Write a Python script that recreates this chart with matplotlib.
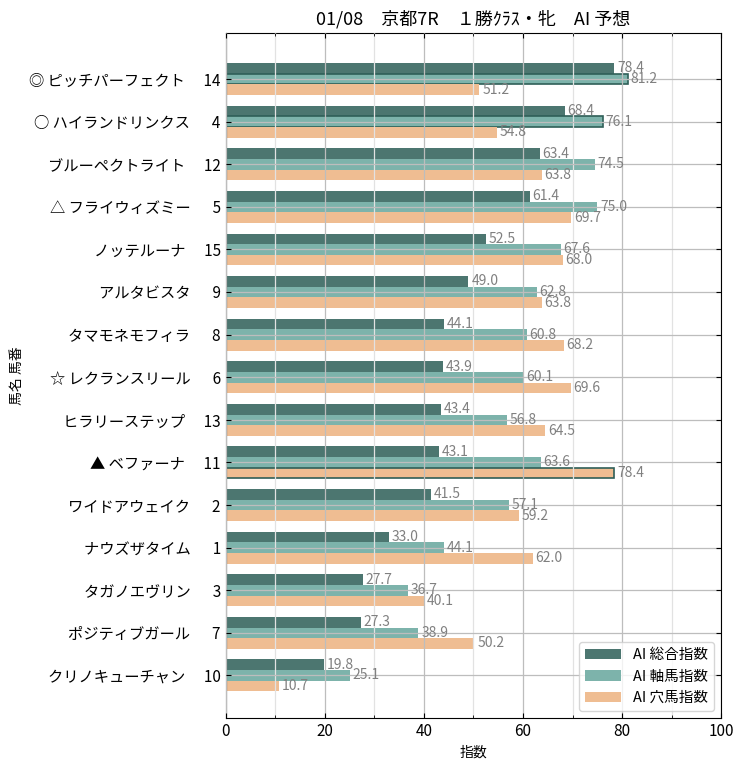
import matplotlib

matplotlib.use("Agg")
import matplotlib.pyplot as plt
import numpy as np
from matplotlib.patches import Patch
from matplotlib.ticker import MultipleLocator

plt.rcParams["font.family"] = ["Noto Sans CJK JP", "DejaVu Sans"]

marks = ["◎", "○", "", "△", "", "", "", "☆", "", "▲", "", "", "", "", ""]
names = [
    "ピッチパーフェクト", "ハイランドリンクス", "ブルーペクトライト", "フライウィズミー",
    "ノッテルーナ", "アルタビスタ", "タマモネモフィラ", "レクランスリール",
    "ヒラリーステップ", "ベファーナ", "ワイドアウェイク", "ナウズザタイム",
    "タガノエヴリン", "ポジティブガール", "クリノキューチャン",
]
numbers = [14, 4, 12, 5, 15, 9, 8, 6, 13, 11, 2, 1, 3, 7, 10]

total_idx = [78.4, 68.4, 63.4, 61.4, 52.5, 49.0, 44.1, 43.9, 43.4, 43.1, 41.5, 33.0, 27.7, 27.3, 19.8]
axis_idx = [81.2, 76.1, 74.5, 75.0, 67.6, 62.8, 60.8, 60.1, 56.8, 63.6, 57.1, 44.1, 36.7, 38.9, 25.1]
hole_idx = [51.2, 54.8, 63.8, 69.7, 68.0, 63.8, 68.2, 69.6, 64.5, 78.4, 59.2, 62.0, 40.1, 50.2, 10.7]

series_labels = ["AI 総合指数", "AI 軸馬指数", "AI 穴馬指数"]
colors = ["#4c7670", "#7db3ab", "#efbd92"]
# bars drawn with an outline: (series, row)
outlined = [(1, 0), (1, 1), (2, 9)]

title = "01/08　京都7R　１勝ｸﾗｽ・牝　AI 予想"

fig = plt.figure(figsize=(7.45, 7.7), dpi=100)
ax = fig.add_axes([0.303, 0.0675, 0.665, 0.8895])

y = np.arange(len(names))
h = 0.25
for s, (vals, off) in enumerate(zip([total_idx, axis_idx, hole_idx], [-h, 0, h])):
    bars = ax.barh(y + off, vals, height=h, color=colors[s], zorder=1)
    for ss, row in outlined:
        if ss == s:
            bars[row].set_edgecolor("#2f5f58")
            bars[row].set_linewidth(1.2)
    ax.bar_label(bars, fmt="%.1f", padding=2, color="#808080", fontsize=10)

labels = [f"{m} {n}　 {num:>2}".strip() for m, n, num in zip(marks, names, numbers)]
ax.set_yticks(y)
ax.set_yticklabels(labels, fontsize=11)
ax.set_ylim(15.0, -1.08)
ax.set_xlim(0, 100)
ax.xaxis.set_major_locator(MultipleLocator(20))
ax.xaxis.set_minor_locator(MultipleLocator(10))
ax.tick_params(axis="x", labelsize=11)
ax.tick_params(which="both", direction="in", top=True, right=True)

ax.set_axisbelow(False)
ax.grid(which="major", color="#bdbdbd", linewidth=0.9, zorder=2)
ax.grid(which="minor", axis="x", color="#e2e2e2", linewidth=0.9, zorder=2)

ax.set_xlabel("指数", fontsize=10)
ax.set_ylabel("馬名 馬番", fontsize=10)
ax.set_title(title, fontsize=13)
handles = [Patch(facecolor=c) for c in colors]
ax.legend(handles, series_labels, loc="lower right", fontsize=10.5, handlelength=2.5)

fig.savefig("out.png", dpi=100)
